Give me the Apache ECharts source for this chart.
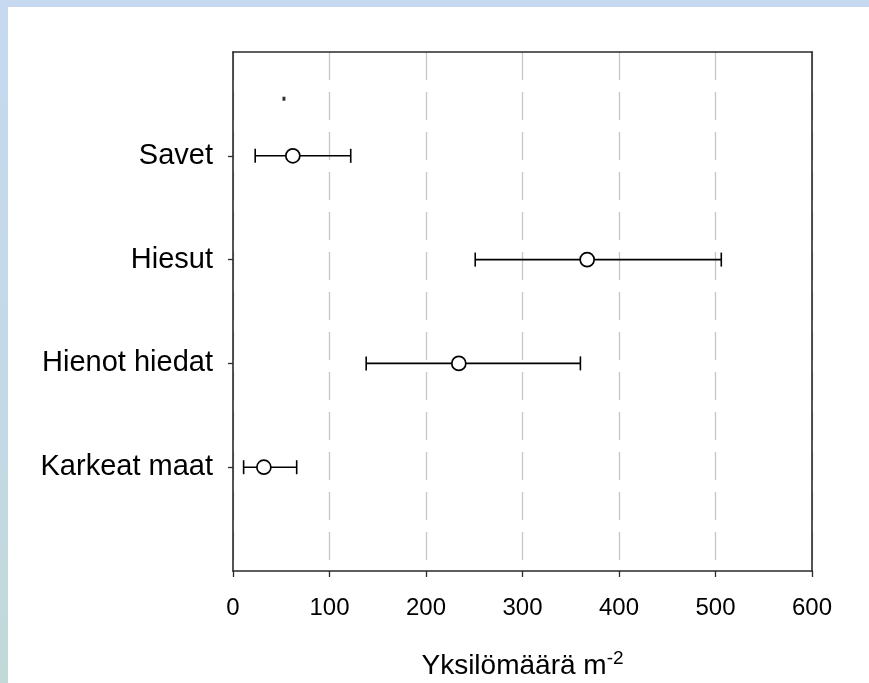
<!DOCTYPE html>
<html>
<head>
<meta charset="utf-8">
<script src="https://cdn.jsdelivr.net/npm/echarts@6/dist/echarts.min.js"></script>
<style>
  html, body { margin: 0; padding: 0; }
  body {
    width: 869px; height: 683px; position: relative; overflow: hidden;
    background: linear-gradient(to bottom, #c6d9f0 0%, #c4d9e6 60%, #c2d9d8 100%);
  }
  #sheet { position: absolute; left: 8px; top: 7px; right: 0; bottom: 0; background: #ffffff; }
  #chart { position: absolute; left: 0; top: 0; width: 869px; height: 683px; }
</style>
</head>
<body>
<div id="sheet"></div>
<div id="chart"></div>
<script>
// Soil classes, listed bottom to top (row 1 = bottom)
const categories = ['Karkeat maat', 'Hienot hiedat', 'Hiesut', 'Savet'];
const rowPositions = [1, 2, 3, 4];
// Mean density and its interval, individuals per m²
const means = [32, 234, 367, 62];
const lower = [11, 138, 251, 23];
const upper = [66, 360, 506, 122];
// Lone speck above the top row
const speck = [[52.8, 4.55]];
// Axis ticks
const xTicks = [0, 100, 200, 300, 400, 500, 600];

const chart = echarts.init(document.getElementById('chart'), null, { renderer: 'canvas' });

const font = '"Liberation Sans", Arial, sans-serif';
const frameColor = '#2a2a2a';

const intervals = rowPositions.map((y, i) => [lower[i], upper[i], y]);
const points = rowPositions.map((y, i) => [means[i], y]);

chart.setOption({
  backgroundColor: 'transparent',
  animation: false,
  grid: { left: 233, right: 57, top: 52, bottom: 112, containLabel: false, outerBoundsMode: 'none' },
  xAxis: [{
    type: 'value',
    min: xTicks[0], max: xTicks[xTicks.length - 1], interval: 100,
    position: 'bottom',
    axisLine: { show: true, onZero: false, lineStyle: { color: frameColor, width: 1.6 } },
    axisTick: { show: true, inside: false, length: 6, lineStyle: { color: frameColor, width: 1.3 } },
    axisLabel: { show: true, margin: 25, color: '#000', fontSize: 24, fontFamily: font },
    splitLine: { show: true, lineStyle: { color: '#c6c6c6', width: 1.3, type: [28, 12] } },
    name: '{a|Yksilömäärä m}{s|-2}',
    nameLocation: 'middle',
    nameGap: 79,
    nameTextStyle: {
      rich: {
        a: { fontSize: 28, fontFamily: font, color: '#000', lineHeight: 32 },
        s: { fontSize: 19, fontFamily: font, color: '#000', lineHeight: 32, padding: [0, 0, 14, 0] }
      }
    }
  }, {
    type: 'value',
    min: xTicks[0], max: xTicks[xTicks.length - 1],
    position: 'top',
    axisLine: { show: true, onZero: false, lineStyle: { color: frameColor, width: 1.6 } },
    axisTick: { show: false }, axisLabel: { show: false }, splitLine: { show: false }
  }],
  yAxis: [{
    type: 'value',
    min: 0, max: 5, interval: 1,
    position: 'left',
    axisLine: { show: true, onZero: false, lineStyle: { color: frameColor, width: 1.6 } },
    axisTick: { show: true, length: 5, customValues: rowPositions, lineStyle: { color: frameColor, width: 1.3 } },
    axisLabel: {
      show: true, margin: 20, color: '#000', fontSize: 29, fontFamily: font,
      customValues: rowPositions,
      formatter: v => categories[rowPositions.indexOf(v)] || ''
    },
    splitLine: { show: false }
  }, {
    type: 'value',
    min: 0, max: 5,
    position: 'right',
    axisLine: { show: true, onZero: false, lineStyle: { color: frameColor, width: 1.6 } },
    axisTick: { show: false }, axisLabel: { show: false }, splitLine: { show: false }
  }],
  series: [{
    type: 'custom',
    xAxisIndex: 0, yAxisIndex: 0,
    data: intervals,
    z: 3,
    renderItem: function (params, api) {
      const a = api.coord([api.value(0), api.value(2)]);
      const b = api.coord([api.value(1), api.value(2)]);
      const h = 7;
      const style = { stroke: '#000', lineWidth: 1.6, fill: null };
      return {
        type: 'group',
        children: [
          { type: 'line', shape: { x1: a[0], y1: a[1], x2: b[0], y2: b[1] }, style: style },
          { type: 'line', shape: { x1: a[0], y1: a[1] - h, x2: a[0], y2: a[1] + h }, style: style },
          { type: 'line', shape: { x1: b[0], y1: b[1] - h, x2: b[0], y2: b[1] + h }, style: style }
        ]
      };
    }
  }, {
    type: 'scatter',
    xAxisIndex: 0, yAxisIndex: 0,
    data: points,
    symbol: 'circle',
    symbolSize: 14,
    z: 4,
    itemStyle: { color: '#ffffff', borderColor: '#000', borderWidth: 1.7, opacity: 1 },
    emphasis: { disabled: true }
  }, {
    type: 'scatter',
    xAxisIndex: 0, yAxisIndex: 0,
    data: speck,
    symbol: 'rect',
    symbolSize: [3, 4],
    z: 4,
    itemStyle: { color: '#000' },
    emphasis: { disabled: true }
  }]
});
</script>
</body>
</html>
